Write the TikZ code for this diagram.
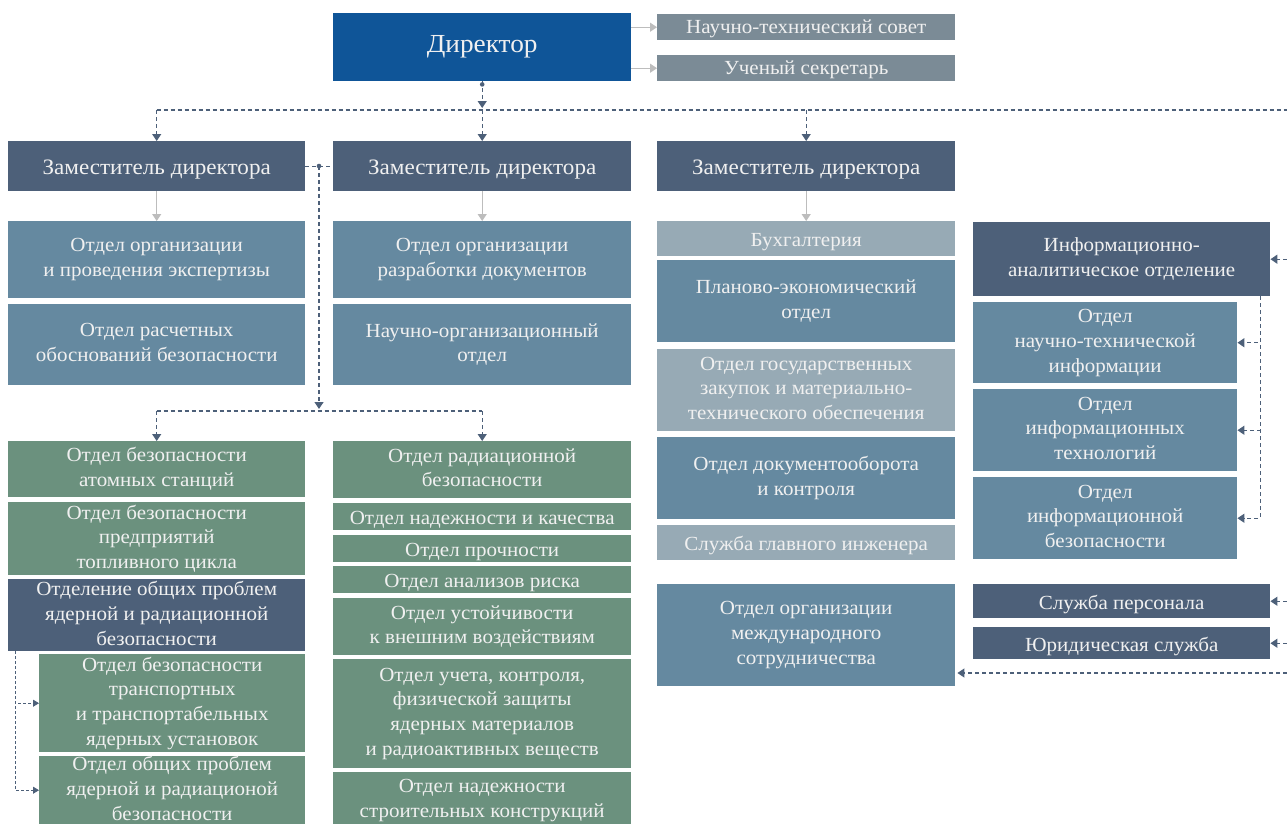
\documentclass[tikz,border=0pt]{standalone}
\usepackage{fontspec}
\setmainfont{Liberation Serif}[FakeStretch=1.05]
\usepackage{xcolor}
\usepackage{tikz}
\definecolor{dirblue}{HTML}{0F5598}
\definecolor{topgray}{HTML}{7B8B96}
\definecolor{slate}{HTML}{4D6079}
\definecolor{steel}{HTML}{6589A0}
\definecolor{pale}{HTML}{97AAB5}
\definecolor{sage}{HTML}{6B917E}
\definecolor{linkcol}{HTML}{4D6079}
\definecolor{arrgray}{HTML}{BDBDBD}
\usetikzlibrary{arrows.meta}
\usetikzlibrary{positioning}
\usetikzlibrary{calc}

\tikzset{
	box/.style={anchor=north west, inner sep=0pt, align=center, text=white!94!black,
		font=\fontsize{20}{24.8}\selectfont},
	lift/.style={execute at begin node={\rule{0pt}{#1}},
		execute at end node={\rule[-0.2em]{0pt}{0pt}}},
	lift/.default=1.0em,
	wh/.style 2 args={minimum width=#1, minimum height=#2},
	dirbox/.style={box, fill=dirblue, font=\fontsize{26}{30}\selectfont},
	topbox/.style={box, lift=0.85em, fill=topgray},
	depbox/.style={box, lift, fill=slate, font=\fontsize{22}{26}\selectfont},
	unitbox/.style={box, lift, fill=slate},
	deptbox/.style={box, lift, fill=steel},
	palebox/.style={box, lift, fill=pale},
	sagebox/.style={box, lift, fill=sage},
	dline/.style={draw=linkcol, line width=1.2pt, dash pattern=on 4pt off 3pt},
	dlink/.style={dline, -{Triangle[width=9pt,length=7pt]}},
	thinlink/.style={draw=linkcol, line width=0.8pt, dash pattern=on 3pt off 2pt, -{Triangle[width=7pt,length=6pt]}},
	graylink/.style={draw=arrgray, line width=1.4pt, -{Triangle[width=9pt,length=7pt]}}
}

\begin{document}
\begin{tikzpicture}[x=1pt, y=-1pt]
	\useasboundingbox (0,0) rectangle (1287,823);

	%Direktor
	\node[dirbox, wh={298}{68}] (dir) at (333,13) {Директор};
	\node[topbox, wh={298}{26}] (nts) at (657,14) {Научно-технический совет};
	\node[topbox, wh={298}{26}] (sec) at (657,55) {Ученый секретарь};

	%Zamestiteli
	\node[depbox, wh={297}{50}] (depA) at (8,141) {Заместитель директора};
	\node[depbox, wh={298}{50}] (depB) at (333,141) {Заместитель директора};
	\node[depbox, wh={298}{50}] (depC) at (657,141) {Заместитель директора};

	%Spalte 1
	\node[deptbox, wh={297}{77}] (expA) at (8,221) {Отдел организации\\и проведения экспертизы};
	\node[deptbox, wh={297}{81}] (calcA) at (8,304) {Отдел расчетных\\обоснований безопасности};
	\node[sagebox, wh={297}{56}] (npp) at (8,441) {Отдел безопасности\\атомных станций};
	\node[sagebox, wh={297}{73}] (fuel) at (8,502) {Отдел безопасности\\предприятий\\топливного цикла};
	\node[unitbox, wh={297}{72}] (gen) at (8,579) {Отделение общих проблем\\ядерной и радиационной\\безопасности};
	\node[sagebox, wh={266}{98}] (trans) at (39,654) {Отдел безопасности\\транспортных\\и транспортабельных\\ядерных установок};
	\node[sagebox, wh={266}{68}] (genp) at (39,756) {Отдел общих проблем\\ядерной и радиационой\\безопасности};

	%Spalte 2
	\node[deptbox, wh={298}{77}] (docB) at (333,221) {Отдел организации\\разработки документов};
	\node[deptbox, wh={298}{81}] (sciB) at (333,304) {Научно-организационный\\отдел};
	\node[sagebox, wh={298}{57}] (rad) at (333,441) {Отдел радиационной\\безопасности};
	\node[sagebox, wh={298}{27}] (qual) at (333,503) {Отдел надежности и качества};
	\node[sagebox, wh={298}{27}] (stren) at (333,535) {Отдел прочности};
	\node[sagebox, wh={298}{27}] (risk) at (333,566) {Отдел анализов риска};
	\node[sagebox, wh={298}{57}] (ext) at (333,598) {Отдел устойчивости\\к внешним воздействиям};
	\node[sagebox, wh={298}{109}] (acct) at (333,659) {Отдел учета, контроля,\\физической защиты\\ядерных материалов\\и радиоактивных веществ};
	\node[sagebox, wh={298}{56}] (build) at (333,772) {Отдел надежности\\строительных конструкций};

	%Spalte 3
	\node[palebox, wh={298}{35}] (acc) at (657,221) {Бухгалтерия};
	\node[deptbox, wh={298}{82}] (plan) at (657,260) {Планово-экономический\\отдел};
	\node[palebox, wh={298}{82}] (proc) at (657,349) {Отдел государственных\\закупок и материально-\\технического обеспечения};
	\node[deptbox, wh={298}{82}] (flow) at (657,437) {Отдел документооборота\\и контроля};
	\node[palebox, wh={298}{35}] (eng) at (657,525) {Служба главного инженера};
	\node[deptbox, wh={298}{102}] (intl) at (657,584) {Отдел организации\\международного\\сотрудничества};

	%Spalte 4
	\node[unitbox, wh={297}{74}] (info) at (973,222) {Информационно-\\аналитическое отделение};
	\node[deptbox, wh={264}{81}] (nti) at (973,302) {Отдел\\научно-технической\\информации};
	\node[deptbox, wh={264}{82}] (itech) at (973,389) {Отдел\\информационных\\технологий};
	\node[deptbox, wh={264}{82}] (isec) at (973,477) {Отдел\\информационной\\безопасности};
	\node[unitbox, wh={297}{34}] (hr) at (973,584) {Служба персонала};
	\node[unitbox, wh={297}{32}] (law) at (973,627) {Юридическая служба};

	%Hilfspunkte
	\coordinate (bus) at (0,110);
	\coordinate (busR) at (1287,110);
	\coordinate (bus2) at (0,411);
	\coordinate (brA) at (319,166);
	\coordinate (edgeR) at (1287,0);
	\coordinate (intlR) at (1287,673);

	%Graue Pfeile
	\draw[graylink] (dir.east |- nts.west) -- (nts.west);
	\draw[graylink] (dir.east |- sec.west) -- (sec.west);
	\foreach \a/\b in {depA/expA, depB/docB, depC/acc}
		\draw[graylink] (\a.south) -- (\b.north);

	%Direktor -> Zamestiteli
	\fill[linkcol] ($(dir.south)+(0,3)$) circle (2.3);
	\draw[dlink] (dir.south) -- ($(dir.south |- bus)+(0,-2)$);
	\draw[dline] (depA.north |- bus) -- (busR);
	\foreach \d in {depA,depB,depC}
		\draw[dlink] (\d.north |- bus) -- (\d.north);

	%Zweig links
	\draw[dline] (depA.east) -- (depB.west);
	\fill[linkcol] (brA) circle (2.3);
	\draw[dlink] (brA) -- ($(brA |- bus2)+(0,-2)$);
	\draw[dline] (npp.north |- bus2) -- (rad.north |- bus2);
	\foreach \d in {npp,rad}
		\draw[dlink] (\d.north |- bus2) -- (\d.north);

	%Otdelenie
	\draw[thinlink] ($(gen.south west)+(7,0)$) |- (trans.west);
	\draw[thinlink] ($(gen.south west)+(7,0)$) |- (genp.west);

	%Informacionnoe otdelenie
	\foreach \d in {nti,itech,isec}
		\draw[dlink] ($(info.south east)+(-10,0)$) |- (\d.east);

	%Rechter Rand
	\foreach \d in {info,hr,law}
		\draw[dlink] (\d.east -| edgeR) -- (\d.east);
	\draw[dlink] (intlR) -- ($(intl.east |- intlR)+(2,0)$);
\end{tikzpicture}
\end{document}
